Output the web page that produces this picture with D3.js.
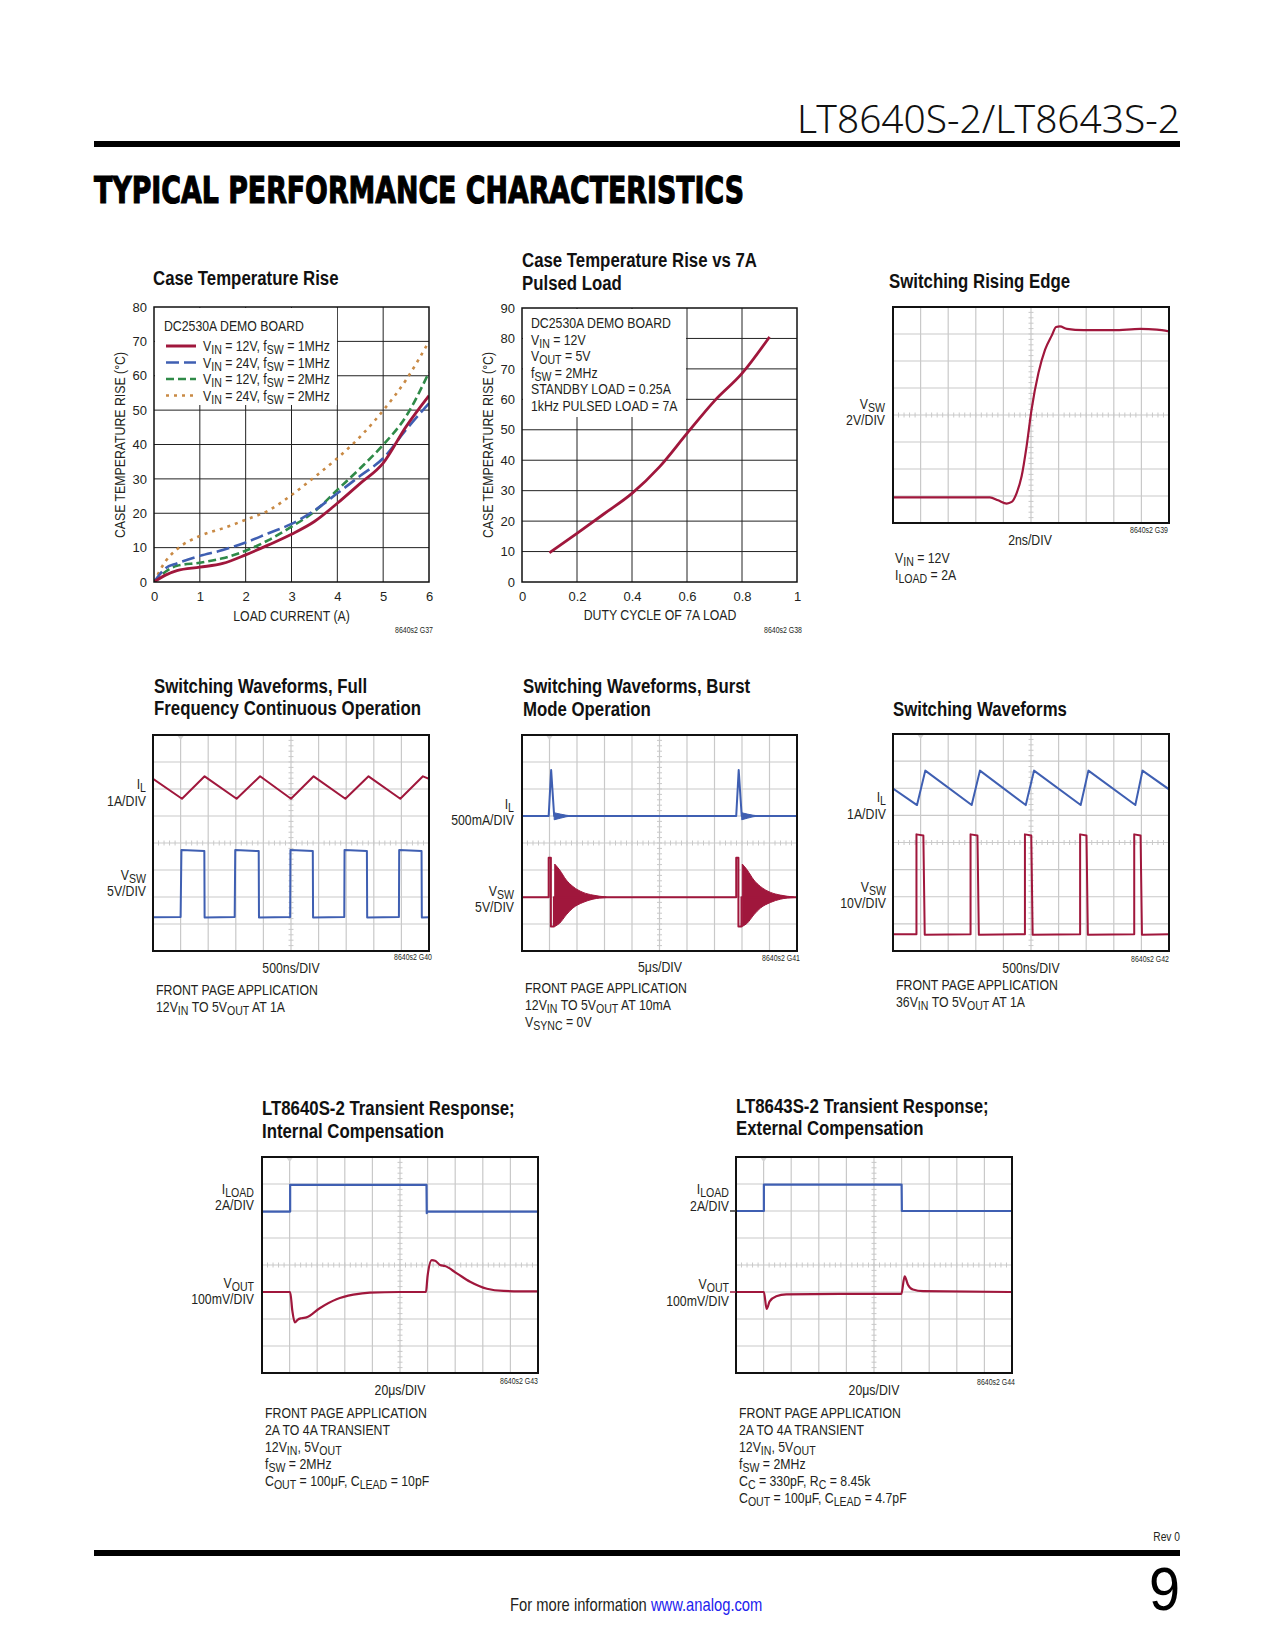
<!DOCTYPE html>
<html><head><meta charset="utf-8">
<script src="https://cdn.jsdelivr.net/npm/d3@7"></script>
<style>body{margin:0;background:#fff} svg{display:block}</style>
</head><body><svg id="page" width="1275" height="1650"></svg>
<script>
// ---------------- DATA ----------------
// Chart 1: Case Temperature Rise vs load current
const loadCurrent = [0, 0.25, 0.5, 1, 1.5, 2, 2.5, 3, 3.5, 4, 4.5, 5, 5.5, 6];
const rise12V1MHz = [0, 2, 3.3, 4.3, 5.4, 7.9, 10.8, 13.9, 17.6, 22.9, 28.7, 34.6, 45.2, 54.2];
const rise24V1MHz = [0, 4, 5.4, 7.6, 9.3, 11.5, 14.2, 16.9, 20.8, 25.8, 30.9, 36, 44.3, 52];
const rise12V2MHz = [0, 3, 4.7, 5.6, 6.9, 9.1, 12.2, 16.1, 20.5, 26.8, 33.1, 39.9, 48.2, 61];
const rise24V2MHz = [0, 6, 9.5, 13.4, 15.6, 18.1, 20.8, 25.3, 30.5, 36, 42.3, 49.9, 58.8, 70];
const c1XTicks = [0, 1, 2, 3, 4, 5, 6];
const c1YTicks = [0, 10, 20, 30, 40, 50, 60, 70, 80];
const c1Legend = ["V_{IN} = 12V, f_{SW} = 1MHz", "V_{IN} = 24V, f_{SW} = 1MHz", "V_{IN} = 12V, f_{SW} = 2MHz", "V_{IN} = 24V, f_{SW} = 2MHz"];

// Chart 2: Case Temperature Rise vs 7A pulsed load
const dutyCycle = [0.1, 0.2, 0.3, 0.4, 0.5, 0.6, 0.7, 0.8, 0.9];
const risePulsed = [9.6, 16, 22.5, 29.1, 37.8, 48.8, 59.5, 68.5, 80.5];
const c2XTicks = [0, 0.2, 0.4, 0.6, 0.8, 1];
const c2YTicks = [0, 10, 20, 30, 40, 50, 60, 70, 80, 90];
const c2Legend = ["DC2530A DEMO BOARD", "V_{IN} = 12V", "V_{OUT} = 5V", "f_{SW} = 2MHz", "STANDBY LOAD = 0.25A", "1kHz PULSED LOAD = 7A"];

// Oscilloscope traces: [division x (0-10), division y (0-8)]
const risingEdge = [[0,0.95],[3.51,0.95],[3.81,0.84],[4.12,0.72],[4.30,0.78],[4.48,1.11],[4.66,1.73],[4.84,2.84],[5.02,4.2],[5.27,5.56],[5.51,6.42],[5.75,6.94],[5.91,7.26],[6.05,7.28],[6.30,7.19],[6.90,7.14],[7.99,7.14],[8.96,7.19],[9.56,7.16],[10,7.1]];

const ilFull = [[0,6.38],[1.05,5.64],[1.87,6.47],[3.03,5.64],[3.88,6.47],[5.0,5.64],[5.82,6.47],[6.97,5.64],[7.81,6.47],[8.96,5.64],[9.78,6.47],[10,6.38]];
const vswFull = [[0,1.25],[1.0,1.26],[1.03,3.74],[1.86,3.70],[1.87,1.24],[2.96,1.26],[2.98,3.74],[3.83,3.70],[3.84,1.24],[4.97,1.26],[4.98,3.74],[5.79,3.70],[5.80,1.24],[6.93,1.26],[6.94,3.74],[7.75,3.70],[7.76,1.24],[8.91,1.26],[8.92,3.74],[9.73,3.70],[9.74,1.24],[10,1.25]];

const ilBurst = [[0,5.0],[0.97,5.0],[1.06,6.70],[1.17,5.0],[7.79,5.0],[7.88,6.70],[7.99,5.0],[10,5.0]];
const ilRingX1 = [1.17, 1.4, 1.6, 1.85];
const ilRingX2 = [7.99, 8.2, 8.4, 8.65];
const ilRingUp = [5.12, 5.07, 5.03, 5.0];
const ilRingLo = [4.86, 4.92, 4.97, 5.0];
const vswBurst = [[0,1.99],[0.97,1.99],[0.97,3.45],[1.05,3.45],[1.05,0.91],[1.16,0.91],[1.16,1.99],[7.79,1.99],[7.79,3.45],[7.87,3.45],[7.87,0.91],[7.98,0.91],[7.98,1.99],[10,1.99]];
const vswRingX1 = [1.19, 1.37, 1.61, 1.85, 2.22, 2.58, 3.07];
const vswRingX2 = [8.01, 8.19, 8.43, 8.67, 9.04, 9.40, 9.89];
const vswRingUp = [3.22, 3.0, 2.63, 2.39, 2.17, 2.07, 2.0];
const vswRingLo = [0.91, 1.03, 1.34, 1.59, 1.80, 1.92, 1.98];

const ilSaw = [[0,5.99],[0.87,5.38],[1.17,6.65],[2.85,5.38],[3.15,6.65],[4.81,5.38],[5.11,6.65],[6.80,5.38],[7.08,6.65],[8.78,5.38],[9.04,6.65],[10,5.96]];
const vswPulse = [[0,0.62],[0.85,0.62],[0.85,4.30],[1.10,4.26],[1.15,0.60],[2.81,0.62],[2.81,4.30],[3.06,4.26],[3.11,0.60],[4.78,0.62],[4.78,4.30],[5.01,4.26],[5.06,0.60],[6.78,0.62],[6.78,4.30],[7.01,4.26],[7.06,0.60],[8.74,0.62],[8.74,4.30],[8.97,4.26],[9.02,0.60],[10,0.62]];

const iload8640 = [[0,5.98],[1.02,5.98],[1.02,6.97],[5.96,6.97],[5.97,5.92],[5.99,5.98],[10,5.98]];
const vout8640 = [[0,3.0],[1.02,3.0],[1.10,2.3],[1.19,1.87],[1.3,1.98],[1.43,2.03],[1.61,2.06],[2.09,2.4],[2.70,2.73],[3.31,2.9],[3.91,2.98],[5.0,3.0],[5.94,3.0],[6.0,3.6],[6.15,4.18],[6.27,4.16],[6.45,4.0],[6.63,3.96],[7.06,3.69],[7.54,3.38],[8.15,3.12],[8.75,3.04],[10,3.02]];
const iload8643 = [[0,6.0],[1.01,6.0],[1.01,6.98],[6.0,6.98],[6.01,6.0],[10,6.0]];
const vout8643 = [[0,3.0],[1.01,3.0],[1.11,2.37],[1.22,2.65],[1.46,2.84],[1.82,2.91],[3.76,2.93],[5.99,2.93],[6.11,3.58],[6.23,3.27],[6.41,3.09],[6.78,3.03],[10,3.0]];

const scopeXDomain = [0, 10];
const scopeYDomain = [0, 8];

// ---------------- STYLE ----------------
const SANS = "'Liberation Sans',Arial,sans-serif";
const NARROW_SX = 0.82;
const TXT = "#231f20";
const RED = "#a0173c", BLUE = "#3f5fb2", GREEN = "#2f8a48", ORANGE = "#c98a45";
const svg = d3.select("#page");

function rich(sel, str, fs) {
  const parts = str.split(/(_\{[^}]*\})/);
  let shifted = false;
  parts.forEach(p => {
    if (!p) return;
    if (p.startsWith("_{")) {
      sel.append("tspan").attr("dy", fs * 0.22).attr("font-size", fs * 0.86).text(p.slice(2, -1));
      shifted = true;
    } else {
      const t = sel.append("tspan").text(p);
      if (shifted) { t.attr("dy", -fs * 0.22); shifted = false; }
    }
  });
}
// narrow text: Liberation Sans squeezed horizontally (Helvetica Narrow look)
function label(g, x, y, str, o = {}) {
  const size = o.size || 15;
  const sx = o.sx != null ? o.sx : NARROW_SX;
  const w = g.append("g").attr("transform", `translate(${x},${y})${o.rotate ? ` rotate(${o.rotate})` : ""} scale(${sx},1)`);
  const t = w.append("text").attr("x", 0).attr("y", 0)
    .attr("font-size", size).attr("text-anchor", o.anchor || "start")
    .attr("font-weight", o.weight || "normal").attr("font-family", o.family || SANS)
    .attr("fill", o.fill || TXT);
  rich(t, str, size);
  return t;
}
function lines(g, x, y, arr, lh, o) { arr.forEach((s, i) => label(g, x, y + i * lh, s, o)); }
const TITLE = { size: 20.5, weight: "bold", fill: "#111" };

// ---------------- PAGE HEADER / FOOTER ----------------
svg.append("rect").attr("width", 1275).attr("height", 1650).attr("fill", "#fff");
label(svg, 1180, 133, "LT8640S-2/LT8643S-2", { size: 39, anchor: "end", sx: 1, family: "'Noto Sans','DejaVu Sans',sans-serif", weight: 300, fill: "#111" })
  .attr("textLength", 383).attr("lengthAdjust", "spacingAndGlyphs");
svg.append("rect").attr("x", 94).attr("y", 141).attr("width", 1086).attr("height", 6).attr("fill", "#000");
label(svg, 94, 203, "TYPICAL PERFORMANCE CHARACTERISTICS", { size: 38, sx: 1, weight: "bold", family: "'DejaVu Sans',sans-serif", fill: "#000" })
  .attr("textLength", 650).attr("lengthAdjust", "spacingAndGlyphs").attr("stroke", "#000").attr("stroke-width", 1.2);

svg.append("rect").attr("x", 94).attr("y", 1550).attr("width", 1086).attr("height", 6).attr("fill", "#000");
label(svg, 1180, 1541, "Rev 0", { size: 12.5, anchor: "end" });
label(svg, 1180, 1610, "9", { size: 62, anchor: "end", sx: 0.9, fill: "#000" });
{
  const w = svg.append("g").attr("transform", `translate(510,1611) scale(${NARROW_SX},1)`);
  const ft = w.append("text").attr("font-size", 18).attr("font-family", SANS).attr("fill", TXT);
  ft.append("tspan").text("For more information ");
  ft.append("tspan").attr("fill", "#2222ee").text("www.analog.com");
}

// ---------------- XY CHARTS ----------------
function xyChart(c) {
  const g = svg.append("g");
  const xs = d3.scaleLinear().domain(c.xDomain).range([c.x, c.x + c.w]);
  const ys = d3.scaleLinear().domain(c.yDomain).range([c.y + c.h, c.y]);
  g.append("g").selectAll("line").data(c.xTicks.slice(1, -1)).join("line")
    .attr("x1", d => xs(d)).attr("x2", d => xs(d)).attr("y1", c.y).attr("y2", c.y + c.h)
    .attr("stroke", "#222").attr("stroke-width", 1);
  g.append("g").selectAll("line").data(c.yTicks.slice(1, -1)).join("line")
    .attr("y1", d => ys(d)).attr("y2", d => ys(d)).attr("x1", c.x).attr("x2", c.x + c.w)
    .attr("stroke", "#222").attr("stroke-width", 1);
  g.append("rect").attr("x", c.x + 1).attr("y", c.y + 1).attr("width", c.legW).attr("height", c.legH).attr("fill", "#fff");
  const ax = g.append("g").attr("transform", `translate(0,${c.y + c.h})`)
    .call(d3.axisBottom(xs).tickValues(c.xTicks).tickSize(0).tickPadding(10).tickFormat(d3.format("~g")));
  const ay = g.append("g").attr("transform", `translate(${c.x},0)`)
    .call(d3.axisLeft(ys).tickValues(c.yTicks).tickSize(0).tickPadding(7));
  [ax, ay].forEach(a => { a.select(".domain").remove(); a.selectAll("text").attr("font-family", SANS).attr("font-size", 13).attr("fill", TXT); });
  const clipId = "clip" + Math.random().toString(36).slice(2);
  g.append("clipPath").attr("id", clipId).append("rect").attr("x", c.x).attr("y", c.y).attr("width", c.w).attr("height", c.h);
  const line = d3.line().x(d => xs(d[0])).y(d => ys(d[1])).curve(d3.curveMonotoneX);
  c.series.forEach(s => {
    g.append("path").attr("clip-path", `url(#${clipId})`).attr("d", line(d3.zip(c.xData, s.values)))
      .attr("fill", "none").attr("stroke", s.color).attr("stroke-width", s.width || 2.6)
      .attr("stroke-dasharray", s.dash || null);
  });
  g.append("rect").attr("x", c.x).attr("y", c.y).attr("width", c.w).attr("height", c.h)
    .attr("fill", "none").attr("stroke", "#111").attr("stroke-width", 1.5);
  return { g, xs, ys };
}

// Chart 1
{
  const c = xyChart({ x: 154, y: 307, w: 275, h: 275, xDomain: [0, 6], yDomain: [0, 80], xTicks: c1XTicks, yTicks: c1YTicks,
    legW: 182, legH: 97, xData: loadCurrent,
    series: [
      { values: rise24V2MHz, color: ORANGE, dash: "3,5" },
      { values: rise12V2MHz, color: GREEN, dash: "8,4" },
      { values: rise24V1MHz, color: BLUE, dash: "13,5" },
      { values: rise12V1MHz, color: RED, width: 2.8 }
    ] });
  const g = c.g;
  label(g, 153, 285, "Case Temperature Rise", TITLE);
  label(g, 164, 331, "DC2530A DEMO BOARD");
  const styles = [{ color: RED, dash: null, w: 3 }, { color: BLUE, dash: "13,5", w: 2.6 }, { color: GREEN, dash: "8,4", w: 2.6 }, { color: ORANGE, dash: "3,5", w: 2.6 }];
  c1Legend.forEach((t, i) => {
    const yy = 346 + i * 16.5;
    g.append("line").attr("x1", 166).attr("x2", 196).attr("y1", yy).attr("y2", yy)
      .attr("stroke", styles[i].color).attr("stroke-width", styles[i].w).attr("stroke-dasharray", styles[i].dash);
    label(g, 203, yy + 5, t);
  });
  label(g, 291.5, 621, "LOAD CURRENT (A)", { anchor: "middle" });
  label(g, 125, 445, "CASE TEMPERATURE RISE (°C)", { anchor: "middle", rotate: -90 });
  label(g, 433, 633, "8640s2 G37", { size: 8.5, anchor: "end" });
}
// Chart 2
{
  const c = xyChart({ x: 522, y: 308, w: 275, h: 274, xDomain: [0, 1], yDomain: [0, 90], xTicks: c2XTicks, yTicks: c2YTicks,
    legW: 163, legH: 108, xData: dutyCycle,
    series: [{ values: risePulsed, color: RED, width: 2.8 }] });
  const g = c.g;
  label(g, 522, 267, "Case Temperature Rise vs 7A", TITLE);
  label(g, 522, 290, "Pulsed Load", TITLE);
  lines(g, 531, 328, c2Legend, 16.5, {});
  label(g, 660, 620, "DUTY CYCLE OF 7A LOAD", { anchor: "middle" });
  label(g, 493, 445, "CASE TEMPERATURE RISE (°C)", { anchor: "middle", rotate: -90 });
  label(g, 802, 633, "8640s2 G38", { size: 8.5, anchor: "end" });
}

// ---------------- SCOPE CHARTS ----------------
function scope(c) {
  const g = svg.append("g");
  const xs = d3.scaleLinear().domain(scopeXDomain).range([c.x, c.x + c.w]);
  const ys = d3.scaleLinear().domain(scopeYDomain).range([c.y + c.h, c.y]);
  const gridCol = "#c9c9c9";
  g.append("g").selectAll("line").data(d3.range(1, 10)).join("line")
    .attr("x1", d => xs(d)).attr("x2", d => xs(d)).attr("y1", c.y).attr("y2", c.y + c.h)
    .attr("stroke", gridCol).attr("stroke-width", 1.2);
  g.append("g").selectAll("line").data(d3.range(1, 8)).join("line")
    .attr("y1", d => ys(d)).attr("y2", d => ys(d)).attr("x1", c.x).attr("x2", c.x + c.w)
    .attr("stroke", gridCol).attr("stroke-width", 1.2);
  g.append("g").selectAll("line").data(d3.range(1, 50)).join("line")
    .attr("x1", d => xs(d / 5)).attr("x2", d => xs(d / 5)).attr("y1", ys(4) - 2.5).attr("y2", ys(4) + 2.5)
    .attr("stroke", gridCol).attr("stroke-width", 1);
  g.append("g").selectAll("line").data(d3.range(1, 40)).join("line")
    .attr("y1", d => ys(d / 5)).attr("y2", d => ys(d / 5)).attr("x1", xs(5) - 2.5).attr("x2", xs(5) + 2.5)
    .attr("stroke", gridCol).attr("stroke-width", 1);
  if (c.trig != null) {
    const tx = xs(c.trig);
    g.append("path").attr("d", `M${tx - 3},${c.y + 1}L${tx + 3},${c.y + 1}L${tx},${c.y + 5}Z`).attr("fill", "#d4d4d4");
  }
  const clipId = "sc" + Math.random().toString(36).slice(2);
  g.append("clipPath").attr("id", clipId).append("rect").attr("x", c.x).attr("y", c.y).attr("width", c.w).attr("height", c.h);
  const area = d3.area().x(d => xs(d[0])).y0(d => ys(d[2])).y1(d => ys(d[1])).curve(d3.curveMonotoneX);
  (c.areas || []).forEach(a => {
    g.append("path").attr("clip-path", `url(#${clipId})`).attr("d", area(d3.zip(a.x, a.up, a.lo)))
      .attr("fill", a.color).attr("stroke", a.color).attr("stroke-width", 1);
  });
  const ln = d3.line().x(d => xs(d[0])).y(d => ys(d[1]));
  c.traces.forEach(t => {
    g.append("path").attr("clip-path", `url(#${clipId})`).attr("d", t.smooth ? ln.curve(d3.curveMonotoneX)(t.data) : ln.curve(d3.curveLinear)(t.data))
      .attr("fill", "none").attr("stroke", t.color).attr("stroke-width", t.width || 2).attr("stroke-linejoin", "round");
  });
  g.append("rect").attr("x", c.x).attr("y", c.y).attr("width", c.w).attr("height", c.h)
    .attr("fill", "none").attr("stroke", "#111").attr("stroke-width", 2);
  return { g, xs, ys };
}

// Chart 3
{
  const { g } = scope({ x: 893, y: 307, w: 276, h: 216, traces: [{ data: risingEdge, color: RED, width: 2.2, smooth: true }] });
  label(g, 889, 288, "Switching Rising Edge", TITLE);
  label(g, 885, 409, "V_{SW}", { anchor: "end" });
  label(g, 885, 425, "2V/DIV", { anchor: "end" });
  label(g, 1030, 545, "2ns/DIV", { anchor: "middle" });
  label(g, 1168, 533, "8640s2 G39", { size: 8.5, anchor: "end" });
  lines(g, 895, 563, ["V_{IN} = 12V", "I_{LOAD} = 2A"], 17, {});
}
// Chart 4
{
  const { g } = scope({ x: 153, y: 735, w: 276, h: 216, trig: 1, traces: [
    { data: ilFull, color: RED, width: 2 }, { data: vswFull, color: BLUE, width: 2 }] });
  label(g, 154, 693, "Switching Waveforms, Full", TITLE);
  label(g, 154, 715, "Frequency Continuous Operation", TITLE);
  label(g, 146, 789, "I_{L}", { anchor: "end" });
  label(g, 146, 806, "1A/DIV", { anchor: "end" });
  label(g, 146, 880, "V_{SW}", { anchor: "end" });
  label(g, 146, 896, "5V/DIV", { anchor: "end" });
  label(g, 291, 973, "500ns/DIV", { anchor: "middle" });
  label(g, 432, 960, "8640s2 G40", { size: 8.5, anchor: "end" });
  lines(g, 156, 995, ["FRONT PAGE APPLICATION", "12V_{IN} TO 5V_{OUT} AT 1A"], 17, {});
}
// Chart 5
{
  const { g } = scope({ x: 522, y: 735, w: 275, h: 216, trig: 1, traces: [
    { data: ilBurst, color: BLUE, width: 2 }, { data: vswBurst, color: RED, width: 2 }],
    areas: [
      { x: ilRingX1, up: ilRingUp, lo: ilRingLo, color: BLUE },
      { x: ilRingX2, up: ilRingUp, lo: ilRingLo, color: BLUE },
      { x: vswRingX1, up: vswRingUp, lo: vswRingLo, color: RED },
      { x: vswRingX2, up: vswRingUp, lo: vswRingLo, color: RED }] });
  label(g, 523, 693, "Switching Waveforms, Burst", TITLE);
  label(g, 523, 716, "Mode Operation", TITLE);
  label(g, 514, 809, "I_{L}", { anchor: "end" });
  label(g, 514, 825, "500mA/DIV", { anchor: "end" });
  label(g, 514, 896, "V_{SW}", { anchor: "end" });
  label(g, 514, 912, "5V/DIV", { anchor: "end" });
  label(g, 660, 972, "5μs/DIV", { anchor: "middle" });
  label(g, 800, 961, "8640s2 G41", { size: 8.5, anchor: "end" });
  lines(g, 525, 993, ["FRONT PAGE APPLICATION", "12V_{IN} TO 5V_{OUT} AT 10mA", "V_{SYNC} = 0V"], 17, {});
}
// Chart 6
{
  const { g } = scope({ x: 893, y: 734, w: 276, h: 217, trig: 1, traces: [
    { data: ilSaw, color: BLUE, width: 2 }, { data: vswPulse, color: RED, width: 2 }] });
  label(g, 893, 716, "Switching Waveforms", TITLE);
  label(g, 886, 802, "I_{L}", { anchor: "end" });
  label(g, 886, 819, "1A/DIV", { anchor: "end" });
  label(g, 886, 892, "V_{SW}", { anchor: "end" });
  label(g, 886, 908, "10V/DIV", { anchor: "end" });
  label(g, 1031, 973, "500ns/DIV", { anchor: "middle" });
  label(g, 1169, 962, "8640s2 G42", { size: 8.5, anchor: "end" });
  lines(g, 896, 990, ["FRONT PAGE APPLICATION", "36V_{IN} TO 5V_{OUT} AT 1A"], 17, {});
}
// Chart 7
{
  const { g } = scope({ x: 262, y: 1157, w: 276, h: 216, trig: 1, traces: [
    { data: iload8640, color: BLUE, width: 2.2 }, { data: vout8640, color: RED, width: 2.2, smooth: true }] });
  label(g, 262, 1115, "LT8640S-2 Transient Response;", TITLE);
  label(g, 262, 1138, "Internal Compensation", TITLE);
  label(g, 254, 1194, "I_{LOAD}", { anchor: "end" });
  label(g, 254, 1210, "2A/DIV", { anchor: "end" });
  label(g, 254, 1288, "V_{OUT}", { anchor: "end" });
  label(g, 254, 1304, "100mV/DIV", { anchor: "end" });
  label(g, 400, 1395, "20μs/DIV", { anchor: "middle" });
  label(g, 538, 1384, "8640s2 G43", { size: 8.5, anchor: "end" });
  lines(g, 265, 1418, ["FRONT PAGE APPLICATION", "2A TO 4A TRANSIENT", "12V_{IN}, 5V_{OUT}", "f_{SW} = 2MHz", "C_{OUT} = 100μF, C_{LEAD} = 10pF"], 17, {});
}
// Chart 8
{
  const { g, ys } = scope({ x: 736, y: 1157, w: 276, h: 216, trig: 1, traces: [
    { data: iload8643, color: BLUE, width: 2.2 }, { data: vout8643, color: RED, width: 2.2, smooth: true }] });
  g.append("line").attr("x1", 730).attr("x2", 736).attr("y1", ys(6)).attr("y2", ys(6)).attr("stroke", "#333").attr("stroke-width", 1.5);
  g.append("line").attr("x1", 730).attr("x2", 736).attr("y1", ys(3)).attr("y2", ys(3)).attr("stroke", RED).attr("stroke-width", 1.5);
  label(g, 736, 1113, "LT8643S-2 Transient Response;", TITLE);
  label(g, 736, 1135, "External Compensation", TITLE);
  label(g, 729, 1194, "I_{LOAD}", { anchor: "end" });
  label(g, 729, 1211, "2A/DIV", { anchor: "end" });
  label(g, 729, 1289, "V_{OUT}", { anchor: "end" });
  label(g, 729, 1306, "100mV/DIV", { anchor: "end" });
  label(g, 874, 1395, "20μs/DIV", { anchor: "middle" });
  label(g, 1015, 1385, "8640s2 G44", { size: 8.5, anchor: "end" });
  lines(g, 739, 1418, ["FRONT PAGE APPLICATION", "2A TO 4A TRANSIENT", "12V_{IN}, 5V_{OUT}", "f_{SW} = 2MHz", "C_{C} = 330pF, R_{C} = 8.45k", "C_{OUT} = 100μF, C_{LEAD} = 4.7pF"], 17, {});
}
</script></body></html>
